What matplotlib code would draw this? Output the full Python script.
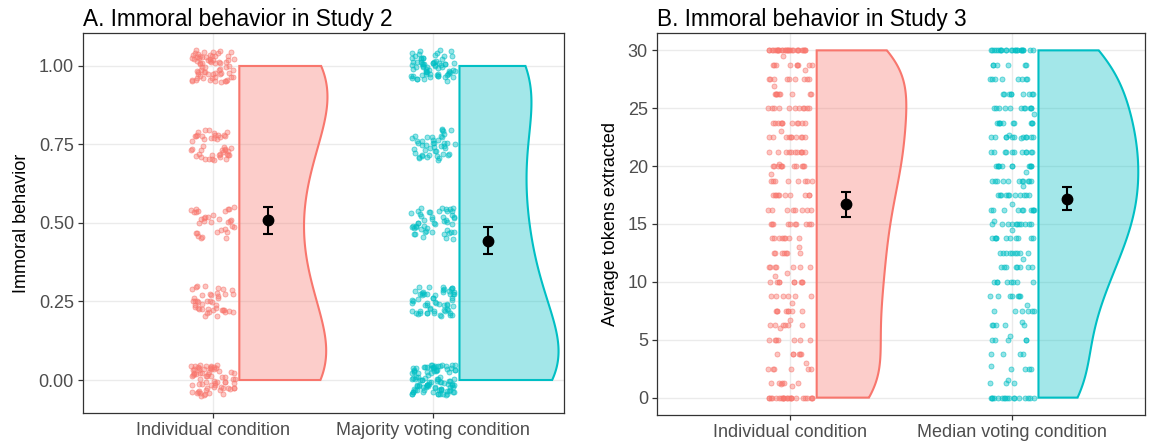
import numpy as np
import matplotlib.pyplot as plt
from matplotlib.colors import to_rgba

plt.rcParams['font.family'] = ['Liberation Sans', 'DejaVu Sans']

RED = '#F8766D'
TEAL = '#00BFC4'

# ---- Study 2: share of immoral choices, participants per level ----
s2_labels = ['Individual condition', 'Majority voting condition']
s2_levels = [0.0, 0.25, 0.5, 0.75, 1.0]
s2_individual_counts = [70, 43, 33, 45, 70]
s2_majority_counts = [100, 60, 50, 45, 70]
s2_means = [0.510, 0.444]
s2_ci_low = [0.466, 0.401]
s2_ci_high = [0.552, 0.487]

# ---- Study 3: average tokens extracted, participants per level ----
s3_labels = ['Individual condition', 'Median voting condition']
s3_levels = [0.0, 1.25, 2.5, 3.75, 5.0, 6.25, 7.5, 8.75, 10.0, 11.25, 12.5,
             13.75, 15.0, 16.25, 17.5, 18.75, 20.0, 21.25, 22.5, 23.75, 25.0,
             26.25, 27.5, 28.75, 30.0]
s3_individual_counts = [24, 5, 6, 6, 7, 6, 8, 6, 9, 7, 7, 8, 10, 8, 10, 8,
                        11, 11, 10, 11, 11, 9, 9, 9, 29]
s3_median_counts = [17, 3, 4, 4, 5, 5, 6, 7, 8, 8, 9, 10, 11, 10, 11, 11,
                    11, 11, 11, 10, 11, 9, 8, 6, 23]
# values that fall between the usual levels
s3_individual_extra = [29.5, 28.3, 26.9, 23.0, 20.2, 19.3, 13.0, 10.5, 10.8,
                       8.2, 6.7, 6.0, 3.0, 1.2, 1.0]
s3_median_extra = [24.5, 22.7, 22.4, 19.5, 18.3, 16.7, 15.3, 14.5, 12.0,
                   8.0, 6.5, 5.3, 2.7, 1.5]
s3_means = [16.71, 17.17]
s3_ci_low = [15.59, 16.19]
s3_ci_high = [17.80, 18.18]


def expand(levels, counts, extra=()):
    return np.concatenate([np.repeat(levels, counts), np.asarray(extra, float)])


def kde(values, grid, bw):
    z = (grid[:, None] - values[None, :]) / bw
    return np.exp(-0.5 * z ** 2).sum(axis=1) / (len(values) * bw * np.sqrt(2 * np.pi))


def jitter(n, shift=0):
    # quadratic Weyl sequences: deterministic, but look scattered
    i = np.arange(n) + shift
    u = (np.sqrt(2) * i * i + 0.31 * i) % 1.0
    v = (np.sqrt(3) * i * i + 0.57 * i) % 1.0
    return u - 0.5, v - 0.5


def raincloud(ax, groups, colors, bw, y_jit, means, lo, hi):
    grids, dens = [], []
    for vals in groups:
        grid = np.linspace(vals.min(), vals.max(), 512)
        grids.append(grid)
        dens.append(kde(vals, grid, bw))
    top = max(d.max() for d in dens)
    for k, (vals, grid, d, c) in enumerate(zip(groups, grids, dens, colors)):
        pos = k + 1
        # half violin
        x0 = pos + 0.12
        w = d / top * 0.45
        xs = np.concatenate([[x0], x0 + w, [x0]])
        ys = np.concatenate([[grid[0]], grid, [grid[-1]]])
        ax.fill(xs, ys, facecolor=to_rgba(c, 0.36), edgecolor=c, lw=1.5, zorder=2)
        # jittered points
        u, v = jitter(len(vals), 7 + k * 500)
        ax.scatter(pos + u * 0.2, vals + v * 2 * y_jit, s=13,
                   facecolors=to_rgba(c, 0.42), edgecolors=to_rgba(c, 0.62),
                   linewidths=0.6, zorder=3)
        # mean and 95% CI
        ax.errorbar(pos + 0.25, means[k], yerr=[[means[k] - lo[k]], [hi[k] - means[k]]],
                    fmt='o', color='black', ms=7.5, elinewidth=1.5, capsize=3.8,
                    capthick=1.5, zorder=5)


def style(ax, title, ylabel, xlabels, xlim, ylim, yticks, yticklabels):
    ax.set_xlim(*xlim)
    ax.set_ylim(*ylim)
    ax.set_xticks([1, 2])
    ax.set_xticklabels(xlabels)
    ax.set_yticks(yticks)
    ax.set_yticklabels(yticklabels)
    ax.grid(True, color='#EBEBEB', lw=1.0)
    ax.set_axisbelow(True)
    for sp in ax.spines.values():
        sp.set_color('#333333')
        sp.set_linewidth(0.9)
    ax.tick_params(colors='#333333', labelcolor='#4D4D4D', labelsize=13,
                   length=3.5, width=0.9, pad=3)
    ax.set_ylabel(ylabel, fontsize=13, labelpad=6)
    ax.set_title(title, loc='left', fontsize=16.3, pad=5)


fig = plt.figure(figsize=(11.53, 4.47), dpi=100)
axA = fig.add_axes([0.0720, 0.0761, 0.4172, 0.8501])
axB = fig.add_axes([0.5698, 0.0716, 0.4232, 0.8546])

s2_groups = [expand(s2_levels, s2_individual_counts), expand(s2_levels, s2_majority_counts)]
raincloud(axA, s2_groups, [RED, TEAL], 0.18, 0.05, s2_means, s2_ci_low, s2_ci_high)
style(axA, 'A. Immoral behavior in Study 2', 'Immoral behavior', s2_labels,
      (0.41, 2.595), (-0.105, 1.105),
      [0, 0.25, 0.5, 0.75, 1.0], ['0.00', '0.25', '0.50', '0.75', '1.00'])

s3_groups = [expand(s3_levels, s3_individual_counts, s3_individual_extra),
             expand(s3_levels, s3_median_counts, s3_median_extra)]
raincloud(axB, s3_groups, [RED, TEAL], 3.5, 0.0, s3_means, s3_ci_low, s3_ci_high)
style(axB, 'B. Immoral behavior in Study 3', 'Average tokens extracted', s3_labels,
      (0.4, 2.6), (-1.5, 31.5),
      [0, 5, 10, 15, 20, 25, 30], ['0', '5', '10', '15', '20', '25', '30'])

fig.savefig('out.png', dpi=100)
